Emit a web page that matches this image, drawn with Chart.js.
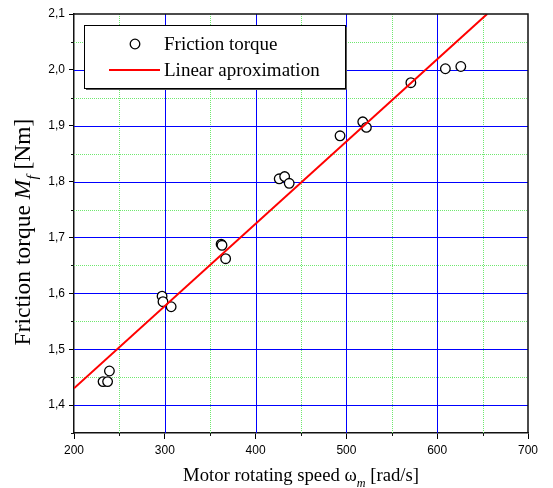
<!DOCTYPE html>
<html>
<head>
<meta charset="utf-8">
<script src="https://cdn.jsdelivr.net/npm/chart.js@4"></script>
<style>
  body { margin: 0; background: #fff; }
  #wrap { width: 553px; height: 488px; }
</style>
</head>
<body>
<div id="wrap"><canvas id="myChart" width="553" height="488"></canvas></div>
<script>
// measured points: motor speed [rad/s] vs friction torque [Nm]
const speed = [232, 237, 239, 297, 298, 307, 362, 363, 367, 426, 432, 437, 493, 518, 522, 571, 609, 626];
const torque = [1.442, 1.442, 1.461, 1.595, 1.585, 1.576, 1.688, 1.686, 1.662, 1.805, 1.809, 1.797, 1.882, 1.907, 1.897, 1.977, 2.002, 2.006];

// end points of the fitted line
const fitSpeed = [200, 655];
const fitTorque = [1.43, 2.1];

const xTicks = [200, 300, 400, 500, 600, 700];
const xMinor = [250, 350, 450, 550, 650];
const yTicks = [1.4, 1.5, 1.6, 1.7, 1.8, 1.9, 2.0, 2.1];
const yMinor = [1.35, 1.45, 1.55, 1.65, 1.75, 1.85, 1.95, 2.05];

const SANS = '"Liberation Sans", Arial, sans-serif';
const SERIF = '"Liberation Serif", "Times New Roman", serif';

// draws a run of text pieces centred on 0; a piece can be italic and/or a subscript
function richText(ctx, parts, size) {
    const fontOf = p => (p.it ? 'italic ' : '') + (p.sub ? size * 0.65 : size) + 'px ' + SERIF;
    let w = 0;
    parts.forEach(p => {
        ctx.font = fontOf(p);
        p.w = ctx.measureText(p.t).width;
        w += p.w;
    });
    let x = -w / 2;
    parts.forEach(p => {
        ctx.font = fontOf(p);
        ctx.fillText(p.t, x, p.sub ? size * 0.3 : 0);
        x += p.w;
    });
}

function vLine(ctx, px, y1, y2) {
    ctx.beginPath(); ctx.moveTo(px, y1); ctx.lineTo(px, y2); ctx.stroke();
}
function hLine(ctx, py, x1, x2) {
    ctx.beginPath(); ctx.moveTo(x1, py); ctx.lineTo(x2, py); ctx.stroke();
}

const extras = {
    id: 'extras',
    beforeDatasetsDraw(chart) {
        const { ctx, chartArea: a, scales: { x, y } } = chart;
        ctx.save();
        ctx.lineWidth = 1;

        // minor grid: dotted green
        ctx.strokeStyle = '#6fe86f';
        ctx.setLineDash([1, 1]);
        xMinor.forEach(v => vLine(ctx, Math.round(x.getPixelForValue(v)) + 0.5, a.top, a.bottom));
        yMinor.forEach(v => {
            const py = Math.round(y.getPixelForValue(v)) + 0.5;
            if (py < a.bottom - 1) hLine(ctx, py, a.left, a.right);
        });

        // major grid: solid blue
        ctx.strokeStyle = '#0000ff';
        ctx.setLineDash([]);
        xTicks.slice(1, -1).forEach(v => vLine(ctx, Math.round(x.getPixelForValue(v)) + 0.5, a.top, a.bottom));
        yTicks.slice(0, -1).forEach(v => hLine(ctx, Math.round(y.getPixelForValue(v)) + 0.5, a.left, a.right));
        ctx.restore();
    },
    afterDraw(chart) {
        const { ctx, chartArea: a, scales: { x, y } } = chart;
        ctx.save();

        // top and right frame
        ctx.strokeStyle = '#111';
        ctx.lineWidth = 1.5;
        ctx.beginPath();
        ctx.moveTo(a.left, a.top); ctx.lineTo(a.right, a.top); ctx.lineTo(a.right, a.bottom);
        ctx.stroke();

        // minor tick marks
        ctx.lineWidth = 1;
        xMinor.forEach(v => vLine(ctx, Math.round(x.getPixelForValue(v)) + 0.5, a.bottom, a.bottom + 3));
        yMinor.forEach(v => hLine(ctx, Math.round(y.getPixelForValue(v)) + 0.5, a.left - 3, a.left));

        // axis titles
        ctx.fillStyle = '#000';
        ctx.textBaseline = 'alphabetic';
        ctx.textAlign = 'left';
        ctx.save();
        ctx.translate((a.left + a.right) / 2, 481);
        richText(ctx, [{ t: 'Motor rotating speed ω' }, { t: 'm', it: true, sub: true }, { t: ' [rad/s]' }], 18.7);
        ctx.restore();
        ctx.save();
        ctx.translate(29.5, 232);
        ctx.rotate(-Math.PI / 2);
        richText(ctx, [{ t: 'Friction torque ' }, { t: 'M', it: true }, { t: 'f', it: true, sub: true }, { t: ' [Nm]' }], 23.5);
        ctx.restore();

        // legend box
        const bx = 84, by = 25, bw = 261, bh = 63;
        ctx.fillStyle = '#fff';
        ctx.fillRect(bx, by, bw, bh);
        ctx.strokeStyle = '#555';
        ctx.lineWidth = 1;
        ctx.beginPath();
        ctx.moveTo(bx + bw + 1.5, by + 2); ctx.lineTo(bx + bw + 1.5, by + bh + 1.5); ctx.lineTo(bx + 2, by + bh + 1.5);
        ctx.stroke();
        ctx.strokeStyle = '#000';
        ctx.strokeRect(bx + 0.5, by + 0.5, bw, bh);

        const ds = chart.data.datasets;
        ctx.font = '19px ' + SERIF;
        ctx.textBaseline = 'middle';

        ctx.beginPath();
        ctx.arc(135, 44, ds[0].pointRadius, 0, Math.PI * 2);
        ctx.fillStyle = ds[0].pointBackgroundColor;
        ctx.fill();
        ctx.strokeStyle = ds[0].pointBorderColor;
        ctx.lineWidth = ds[0].pointBorderWidth;
        ctx.stroke();
        ctx.fillStyle = '#000';
        ctx.fillText(ds[0].label, 164, 45);

        ctx.strokeStyle = ds[1].borderColor;
        ctx.lineWidth = ds[1].borderWidth;
        hLine(ctx, 70, 109, 160);
        ctx.fillText(ds[1].label, 164, 71);

        ctx.restore();
    }
};

const ctx = document.getElementById('myChart');
new Chart(ctx, {
    type: 'scatter',
    data: {
        datasets: [{
            label: 'Friction torque',
            data: speed.map((s, i) => ({ x: s, y: torque[i] })),
            pointRadius: 4.8,
            pointBorderWidth: 1.3,
            pointBorderColor: '#000',
            pointBackgroundColor: '#fff',
            showLine: false,
            order: 1
        }, {
            label: 'Linear aproximation',
            data: fitSpeed.map((s, i) => ({ x: s, y: fitTorque[i] })),
            showLine: true,
            borderColor: '#ff0000',
            borderWidth: 2,
            pointRadius: 0,
            order: 0
        }]
    },
    options: {
        responsive: false,
        animation: false,
        layout: { padding: { left: 0, right: 25, top: 14, bottom: 0 } },
        plugins: { legend: { display: false }, tooltip: { enabled: false } },
        scales: {
            x: {
                type: 'linear',
                min: 200,
                max: 700,
                afterBuildTicks: s => { s.ticks = xTicks.map(v => ({ value: v })); },
                afterFit: s => { s.height = 55; },
                ticks: {
                    font: { family: SANS, size: 12 },
                    color: '#000',
                    padding: 4,
                    maxRotation: 0
                },
                grid: {
                    drawOnChartArea: false,
                    tickColor: '#000',
                    tickLength: 6
                },
                border: { color: '#111', width: 1.5 }
            },
            y: {
                type: 'linear',
                min: 1.35,
                max: 2.1,
                afterBuildTicks: s => { s.ticks = yTicks.map(v => ({ value: v })); },
                afterFit: s => { s.width = 74; },
                ticks: {
                    font: { family: SANS, size: 12 },
                    color: '#000',
                    padding: 4,
                    callback: v => v.toFixed(1).replace('.', ',')
                },
                grid: {
                    drawOnChartArea: false,
                    tickColor: '#000',
                    tickLength: 5
                },
                border: { color: '#111', width: 1.5 }
            }
        }
    },
    plugins: [extras]
});
</script>
</body>
</html>
